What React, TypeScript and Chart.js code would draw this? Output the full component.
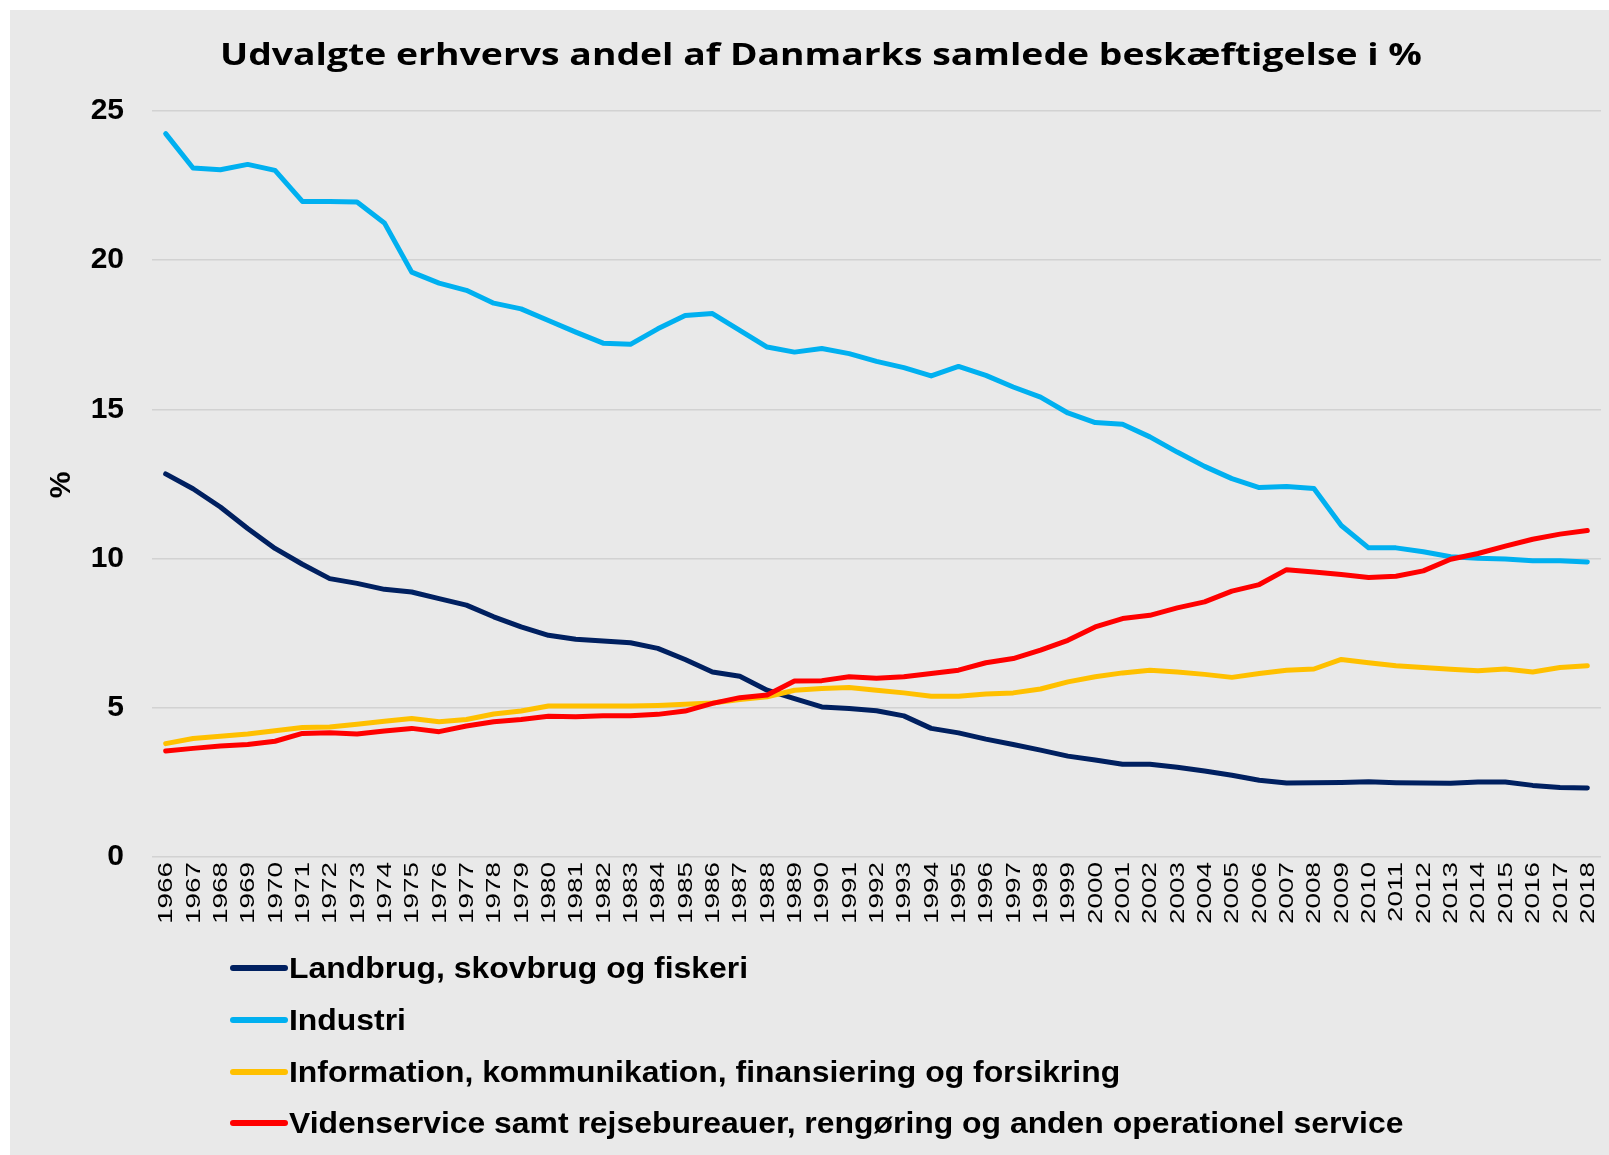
import React, { useEffect, useRef } from 'react';
import { Chart, registerables } from 'chart.js';

Chart.register(...registerables);

const TITLE = 'Udvalgte erhvervs andel af Danmarks samlede beskæftigelse i %';
const Y_TITLE = '%';

const YEARS = [
  '1966', '1967', '1968', '1969', '1970', '1971', '1972', '1973', '1974', '1975',
  '1976', '1977', '1978', '1979', '1980', '1981', '1982', '1983', '1984', '1985',
  '1986', '1987', '1988', '1989', '1990', '1991', '1992', '1993', '1994', '1995',
  '1996', '1997', '1998', '1999', '2000', '2001', '2002', '2003', '2004', '2005',
  '2006', '2007', '2008', '2009', '2010', '2011', '2012', '2013', '2014', '2015',
  '2016', '2017', '2018',
];

const LANDBRUG = [
  12.84, 12.34, 11.73, 11.01, 10.34, 9.81, 9.33, 9.17, 8.97, 8.88,
  8.66, 8.44, 8.05, 7.71, 7.43, 7.3, 7.24, 7.18, 6.99, 6.62,
  6.2, 6.06, 5.59, 5.31, 5.03, 4.98, 4.9, 4.73, 4.31, 4.16,
  3.95, 3.77, 3.58, 3.38, 3.25, 3.11, 3.11, 3.01, 2.88, 2.74,
  2.57, 2.48, 2.49, 2.5, 2.52, 2.49, 2.48, 2.47, 2.51, 2.51,
  2.4, 2.33, 2.31,
];

const INDUSTRI = [
  24.24, 23.09, 23.03, 23.21, 23.01, 21.97, 21.97, 21.95, 21.25, 19.6,
  19.23, 18.99, 18.56, 18.37, 17.98, 17.59, 17.22, 17.18, 17.7, 18.15,
  18.21, 17.65, 17.09, 16.92, 17.04, 16.87, 16.61, 16.4, 16.12, 16.44,
  16.14, 15.75, 15.41, 14.88, 14.56, 14.5, 14.08, 13.57, 13.09, 12.68,
  12.38, 12.42, 12.35, 11.11, 10.36, 10.36, 10.23, 10.06, 10.01, 9.99,
  9.93, 9.93, 9.89,
];

const INFORMATION = [
  3.8, 3.97, 4.05, 4.12, 4.23, 4.34, 4.36, 4.45, 4.55, 4.64,
  4.53, 4.61, 4.79, 4.89, 5.06, 5.06, 5.06, 5.06, 5.08, 5.12,
  5.16, 5.28, 5.37, 5.59, 5.65, 5.68, 5.59, 5.5, 5.39, 5.39,
  5.46, 5.5, 5.63, 5.87, 6.04, 6.17, 6.26, 6.2, 6.12, 6.02,
  6.15, 6.26, 6.3, 6.62, 6.51, 6.41, 6.35, 6.29, 6.24, 6.3,
  6.2, 6.35, 6.41,
];

const VIDENSERVICE = [
  3.55, 3.64, 3.72, 3.77, 3.88, 4.14, 4.16, 4.12, 4.22, 4.31,
  4.2, 4.39, 4.53, 4.61, 4.72, 4.7, 4.73, 4.73, 4.78, 4.89,
  5.15, 5.34, 5.43, 5.9, 5.91, 6.04, 5.99, 6.04, 6.15, 6.26,
  6.51, 6.65, 6.93, 7.26, 7.71, 7.99, 8.1, 8.35, 8.55, 8.91,
  9.13, 9.63, 9.55, 9.47, 9.37, 9.41, 9.59, 9.98, 10.17, 10.42,
  10.65, 10.82, 10.94,
];

const SERIES_NAMES = [
  'Landbrug, skovbrug og fiskeri',
  'Industri',
  'Information, kommunikation, finansiering og forsikring',
  'Videnservice samt rejsebureauer, rengøring og anden operationel service',
];
const SERIES_COLORS = ['#002060', '#00B0F0', '#FFC000', '#FF0000'];
const SERIES_DATA = [LANDBRUG, INDUSTRI, INFORMATION, VIDENSERVICE];

const W = 1609;
const H = 1155;
const FONT = '"Liberation Sans", Arial, sans-serif';

const decorPlugin = {
  id: 'decor',
  beforeDraw(chart: any) {
    const ctx = chart.ctx;
    ctx.save();
    ctx.fillStyle = '#ffffff';
    ctx.fillRect(0, 0, W, H);
    ctx.fillStyle = '#e9e9e9';
    ctx.fillRect(10, 10, W - 10, H - 10);
    ctx.restore();
  },
  afterDraw(chart: any) {
    const ctx = chart.ctx;
    const xScale = chart.scales.x;

    // Title
    ctx.save();
    ctx.font = 'bold 31px "Open Sans", sans-serif';
    ctx.fillStyle = '#000000';
    ctx.textAlign = 'center';
    ctx.textBaseline = 'alphabetic';
    const tw = ctx.measureText(TITLE).width;
    const tsx = 1202 / tw;
    ctx.translate(821, 65);
    ctx.scale(tsx, 1);
    ctx.fillText(TITLE, 0, 0);
    ctx.restore();

    // Y axis title
    ctx.save();
    ctx.font = 'bold 30px ' + FONT;
    ctx.fillStyle = '#000000';
    ctx.textAlign = 'center';
    ctx.textBaseline = 'middle';
    ctx.translate(62, 485);
    ctx.rotate(-Math.PI / 2);
    ctx.fillText(Y_TITLE, 0, 0);
    ctx.restore();

    // X tick labels (rotated)
    ctx.save();
    ctx.font = '20px ' + FONT;
    ctx.fillStyle = '#000000';
    const lw = ctx.measureText('1966').width;
    const lsx = 62 / lw;
    YEARS.forEach((label, i) => {
      const x = xScale.getPixelForValue(i);
      ctx.save();
      ctx.translate(x + 1, 862);
      ctx.rotate(-Math.PI / 2);
      ctx.scale(lsx, 1);
      ctx.textAlign = 'right';
      ctx.textBaseline = 'middle';
      ctx.fillText(label, 0, 0);
      ctx.restore();
    });
    ctx.restore();

    // Legend
    ctx.save();
    ctx.font = 'bold 29px ' + FONT;
    const l1 = ctx.measureText(SERIES_NAMES[0]).width;
    const gsx = 459 / l1;
    const rowY = [968, 1020, 1072, 1123];
    SERIES_NAMES.forEach((name, i) => {
      const y = rowY[i];
      ctx.strokeStyle = SERIES_COLORS[i];
      ctx.lineWidth = 6;
      ctx.lineCap = 'round';
      ctx.beginPath();
      ctx.moveTo(233, y);
      ctx.lineTo(285, y);
      ctx.stroke();
      ctx.save();
      ctx.fillStyle = '#000000';
      ctx.textAlign = 'left';
      ctx.textBaseline = 'alphabetic';
      ctx.translate(289, y + 10);
      ctx.scale(gsx, 1);
      ctx.fillText(name, 0, 0);
      ctx.restore();
    });
    ctx.restore();
  },
};

export default function App() {
  const canvasRef = useRef<HTMLCanvasElement | null>(null);

  useEffect(() => {
    const canvas = canvasRef.current;
    if (!canvas) return;
    const chart = new Chart(canvas, {
      type: 'line',
      data: {
        labels: YEARS,
        datasets: SERIES_DATA.map((d, i) => ({
          label: SERIES_NAMES[i],
          data: d,
          borderColor: SERIES_COLORS[i],
          backgroundColor: SERIES_COLORS[i],
          borderWidth: 5,
          pointRadius: 0,
          pointHoverRadius: 0,
          tension: 0,
          fill: false,
          borderJoinStyle: 'round' as const,
          borderCapStyle: 'round' as const,
          order: 3 - i,
        })),
      },
      options: {
        responsive: false,
        devicePixelRatio: 1,
        animation: false,
        events: [],
        layout: {
          padding: { top: 111, bottom: 298, left: 0, right: 8 },
        },
        plugins: {
          legend: { display: false },
          title: { display: false },
          tooltip: { enabled: false },
        },
        scales: {
          x: {
            type: 'category',
            offset: true,
            grid: { display: false },
            border: { display: false },
            ticks: { display: false },
            afterFit: (scale: any) => {
              scale.height = 0;
            },
          },
          y: {
            min: 0,
            max: 25,
            border: { display: false },
            grid: {
              color: '#d2d2d2',
              lineWidth: 1.5,
              drawTicks: false,
            },
            ticks: {
              stepSize: 5,
              padding: 28,
              color: '#000000',
              font: { family: FONT, weight: 'bold', size: 30 },
            },
            afterFit: (scale: any) => {
              scale.width = 152;
            },
          },
        },
      },
      plugins: [decorPlugin],
    });
    return () => {
      chart.destroy();
    };
  }, []);

  return (
    <div style={{ position: 'absolute', left: 0, top: 0, width: W, height: H }}>
      <canvas ref={canvasRef} width={W} height={H} style={{ display: 'block', width: W, height: H }} />
    </div>
  );
}
